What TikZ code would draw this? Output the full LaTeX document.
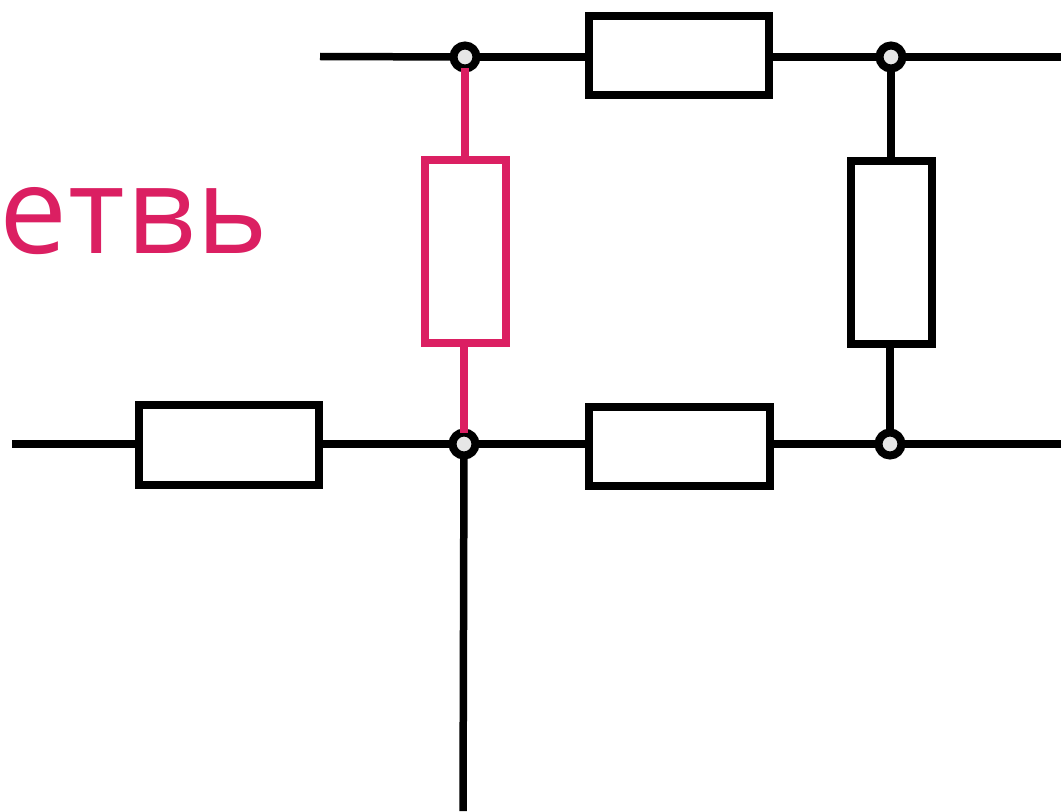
\documentclass[tikz,border=0pt]{standalone}
\usepackage{fontspec}
\setmainfont{Open Sans}
\usetikzlibrary{positioning}
\definecolor{brpink}{RGB}{219,31,98}
\definecolor{jointgray}{RGB}{230,230,230}
\tikzstyle{resistor} = [rectangle, draw=black, fill=white, line width=0.16cm, inner sep=0pt, outer sep=0pt]
\tikzstyle{hres} = [resistor, minimum width=3.62cm, minimum height=1.6cm]
\tikzstyle{vres} = [resistor, minimum width=1.62cm, minimum height=3.68cm]
\tikzstyle{joint} = [circle, draw=black, fill=jointgray, line width=0.16cm, minimum size=0.46cm, inner sep=0pt, outer sep=0pt]
\tikzstyle{wire} = [line width=0.15cm, color=black]
\begin{document}
\begin{tikzpicture}[x=0.02cm, y=-0.02cm]
\useasboundingbox (0,0) rectangle (1061,811);
% Label
\node[anchor=base west, inner sep=0pt, text=brpink, font=\fontsize{69}{69}\selectfont\addfontfeature{LetterSpace=1}] (label) at (-1,253) {етвь};

% Resistors
\node[hres] (rtop) at (679,55.5) {};
\node[hres] (rbot) at (679.5,446.5) {};
\node[hres] (rleft) at (229,445) {};
\node[vres, draw=brpink] (rpink) at (465.5,251.5) {};
\node[vres] (rright) at (891.5,252.5) {};

% Joints
\node[joint] (jtl) at (465,57) {};
\node[joint] (jtr) at (891,57) {};
\node[joint] (jbl) at (464,444) {};
\node[joint] (jbr) at (890,444) {};

% Free ends
\coordinate (intop) at (320,56.5);
\coordinate (outtop) at (1061,57);
\coordinate (inleft) at (12,444);
\coordinate (outbot) at (1061,444);
\coordinate (down) at (463,811);

% Connections
\draw[wire] (intop) -- (jtl);
\draw[wire] (jtl) -- (rtop.west |- jtl);
\draw[wire] (rtop.east |- jtr) -- (jtr);
\draw[wire] (jtr) -- (outtop);
\draw[wire] (jtr) -- (rright.north -| jtr);
\draw[wire] (rright.south -| jbr) -- (jbr);
\draw[wire] (inleft) -- (rleft.west |- inleft);
\draw[wire] (rleft.east |- jbl) -- (jbl);
\draw[wire] (jbl) -- (rbot.west |- jbl);
\draw[wire] (rbot.east |- jbr) -- (jbr);
\draw[wire] (jbr) -- (outbot);
\draw[wire] (jbl) -- (down);
\draw[wire, brpink] (jtl) -- (rpink.north -| jtl);
\draw[wire, brpink] (rpink.south -| jbl) -- (jbl);
\end{tikzpicture}
\end{document}
